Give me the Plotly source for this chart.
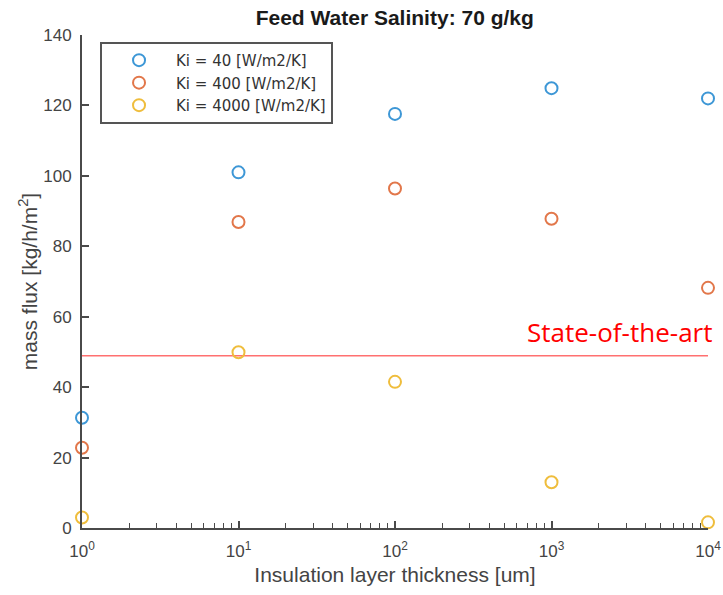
import plotly.graph_objects as go

thickness = [1, 10, 100, 1000, 10000]
flux_ki40 = [31.3, 101.0, 117.6, 124.9, 122.0]
flux_ki400 = [22.8, 86.9, 96.4, 87.8, 68.2]
flux_ki4000 = [3.0, 49.9, 41.5, 13.0, 1.6]
series_names = ["Ki = 40 [W/m2/K]", "Ki = 400 [W/m2/K]", "Ki = 4000 [W/m2/K]"]
series_colors = ["#3d97d6", "#e2774a", "#efbd3c"]
state_of_art = 48.9
x_tickvals = [1, 10, 100, 1000, 10000]
x_ticktext = ["10<sup>0</sup>", "10<sup>1</sup>", "10<sup>2</sup>", "10<sup>3</sup>", "10<sup>4</sup>"]
x_minorvals = [m * 10 ** k for k in range(4) for m in range(2, 10)]
y_tickvals = [0, 20, 40, 60, 80, 100, 120, 140]

FONT = "Liberation Sans, Arial, sans-serif"
AX = "#4a4a4a"

fig = go.Figure()
for name, vals, col in zip(series_names, [flux_ki40, flux_ki400, flux_ki4000], series_colors):
    fig.add_trace(go.Scatter(
        x=thickness, y=vals, mode="markers", name=name,
        marker=dict(symbol="circle-open", size=12, color=col, line=dict(width=2, color=col)),
        cliponaxis=False,
    ))

fig.add_shape(type="line", xref="paper", yref="y", x0=0, x1=1, y0=state_of_art, y1=state_of_art,
              line=dict(color="#ff7070", width=1.5), layer="below")
fig.add_annotation(text="State-of-the-art", xref="paper", yref="y", x=1.009, y=state_of_art,
                   xanchor="right", yanchor="bottom", yshift=4, showarrow=False,
                   font=dict(family="Open Sans, sans-serif", size=26, color="#ff0000"))

tick_font = dict(family=FONT, size=17, color="#444444")
title_font = dict(family=FONT, size=21, color="#444444")
fig.update_layout(
    width=723, height=595,
    margin=dict(l=82, r=15, t=35, b=67),
    paper_bgcolor="white", plot_bgcolor="white",
    title=dict(text="<b>Feed Water Salinity: 70 g/kg</b>", x=0.546, xanchor="center", y=0.971, yanchor="middle",
               font=dict(family=FONT, size=21, color="#1a1a1a")),
    legend=dict(x=0.0288, y=0.986, xanchor="left", yanchor="top",
                bordercolor="#555555", borderwidth=2, bgcolor="white",
                font=dict(family="DejaVu Sans, sans-serif", size=15, color="#333333"),
                tracegroupgap=0, itemwidth=64),
    showlegend=True,
    xaxis=dict(type="log", range=[0, 4], tickmode="array", tickvals=x_tickvals, ticktext=x_ticktext,
               ticks="inside", ticklen=7, tickwidth=1.5, tickcolor=AX, showline=True, linecolor=AX, linewidth=2,
               showgrid=False, zeroline=False, tickfont=tick_font, automargin=False, ticklabelstandoff=7,
               minor=dict(tickmode="array", tickvals=x_minorvals, ticks="inside", ticklen=5, tickwidth=1.2, tickcolor=AX, showgrid=False),
               title=dict(text="Insulation layer thickness [um]", font=title_font, standoff=7)),
    yaxis=dict(range=[0, 140], tickmode="array", tickvals=y_tickvals, ticks="inside", ticklen=7, tickwidth=1.5, tickcolor=AX,
               showline=True, linecolor=AX, linewidth=2, showgrid=False, zeroline=False,
               tickfont=tick_font, automargin=False, ticklabelstandoff=5,
               title=dict(text="mass flux [kg/h/m<sup>2</sup>]", font=title_font, standoff=0)),
)

fig.write_html("out.html", config={"displayModeBar": False},
               post_script="document.body.style.margin='0';document.body.style.overflow='hidden';")
